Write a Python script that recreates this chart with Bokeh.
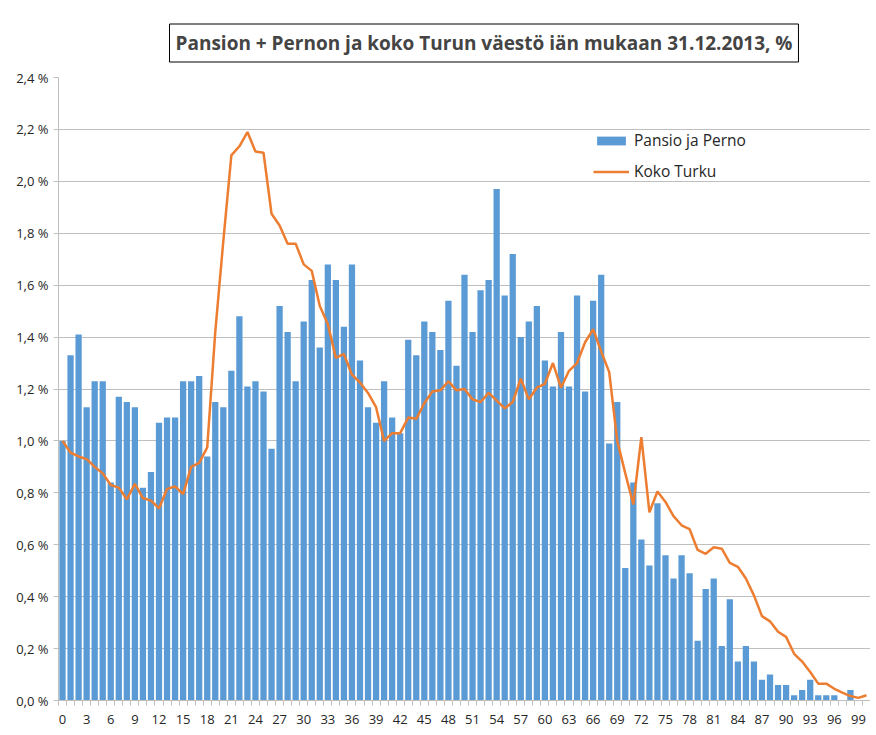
from bokeh.plotting import figure
from bokeh.models import (Range1d, FixedTicker, CustomJSTickFormatter, Legend,
                          LegendItem, ColumnDataSource)
from bokeh.embed import file_html
from bokeh.resources import INLINE

ages = list(range(0, 101))
pansio_perno = [
    1.00, 1.33, 1.41, 1.13, 1.23, 1.23, 0.84, 1.17, 1.15, 1.13,
    0.82, 0.88, 1.07, 1.09, 1.09, 1.23, 1.23, 1.25, 0.94, 1.15,
    1.13, 1.27, 1.48, 1.21, 1.23, 1.19, 0.97, 1.52, 1.42, 1.23,
    1.46, 1.62, 1.36, 1.68, 1.62, 1.44, 1.68, 1.31, 1.13, 1.07,
    1.23, 1.09, 1.03, 1.39, 1.33, 1.46, 1.42, 1.35, 1.54, 1.29,
    1.64, 1.42, 1.58, 1.62, 1.97, 1.56, 1.72, 1.40, 1.46, 1.52,
    1.31, 1.21, 1.42, 1.21, 1.56, 1.19, 1.54, 1.64, 0.99, 1.15,
    0.51, 0.84, 0.62, 0.52, 0.76, 0.56, 0.47, 0.56, 0.49, 0.23,
    0.43, 0.47, 0.21, 0.39, 0.15, 0.21, 0.15, 0.08, 0.10, 0.06,
    0.06, 0.02, 0.04, 0.08, 0.02, 0.02, 0.02, 0.00, 0.04, 0.00,
    0.00,
]
koko_turku = [
    1.00, 0.955, 0.94, 0.93, 0.90, 0.875, 0.83, 0.82, 0.775, 0.835,
    0.78, 0.77, 0.74, 0.815, 0.825, 0.795, 0.90, 0.915, 0.975, 1.42,
    1.77, 2.10, 2.135, 2.19, 2.115, 2.11, 1.875, 1.83, 1.76, 1.76,
    1.68, 1.655, 1.52, 1.45, 1.32, 1.335, 1.255, 1.225, 1.185, 1.13,
    1.00, 1.03, 1.03, 1.09, 1.085, 1.145, 1.19, 1.195, 1.23, 1.195,
    1.20, 1.16, 1.15, 1.185, 1.155, 1.125, 1.15, 1.24, 1.16, 1.205,
    1.22, 1.30, 1.205, 1.27, 1.30, 1.38, 1.43, 1.345, 1.265, 1.00,
    0.875, 0.755, 1.015, 0.725, 0.805, 0.765, 0.71, 0.675, 0.66, 0.58,
    0.565, 0.59, 0.585, 0.53, 0.515, 0.47, 0.405, 0.325, 0.305, 0.265,
    0.245, 0.18, 0.15, 0.11, 0.065, 0.065, 0.045, 0.03, 0.017, 0.01,
    0.02,
]
x_tick_labels = list(range(0, 100, 3))
y_ticks = [0.0, 0.2, 0.4, 0.6, 0.8, 1.0, 1.2, 1.4, 1.6, 1.8, 2.0, 2.2, 2.4]
title_text = "Pansion + Pernon ja koko Turun väestö iän mukaan 31.12.2013, %"
series_names = ["Pansio ja Perno", "Koko Turku"]

src = ColumnDataSource(dict(age=ages, pp=pansio_perno, kt=koko_turku))

p = figure(width=870, height=727, output_backend="svg", toolbar_location=None,
           x_range=Range1d(-0.5, 100.5), y_range=Range1d(0, 2.4),
           min_border_left=58, min_border_right=0, min_border_top=77,
           min_border_bottom=27, title=title_text)

p.title.align = "left"
p.title.offset = 111
p.title.standoff = 31
p.title.text_font = "Open Sans"
p.title.text_font_style = "bold"
p.title.text_font_size = "19px"
p.title.border_line_color = "black"
p.title.border_line_width = 1
p.title.background_fill_color = "white"
p.title.padding = 6

bars = p.vbar(x="age", top="pp", width=0.78, source=src,
              fill_color="#5b9bd5", line_color=None)
line = p.line(x="age", y="kt", source=src, line_color="#ed7d31", line_width=2.5)

p.outline_line_color = None
p.xgrid.grid_line_color = None
p.ygrid.grid_line_color = "#bfbfbf"
p.ygrid.grid_line_width = 1
p.ygrid.ticker = FixedTicker(ticks=y_ticks)

p.yaxis.ticker = FixedTicker(ticks=y_ticks)
p.yaxis.formatter = CustomJSTickFormatter(
    code="return tick.toFixed(1).replace('.', ',') + ' %';")
p.yaxis.axis_line_color = "#bfbfbf"
p.yaxis.major_tick_line_color = "#bfbfbf"
p.yaxis.major_tick_out = 5
p.yaxis.major_tick_in = 0
p.yaxis.minor_tick_line_color = None
p.yaxis.major_label_text_font = "Open Sans"
p.yaxis.major_label_text_font_size = "13px"
p.yaxis.major_label_text_color = "#262626"

boundaries = [a - 0.5 for a in ages] + [ages[-1] + 0.5]
p.xaxis.ticker = FixedTicker(ticks=x_tick_labels, minor_ticks=boundaries)
p.xaxis.axis_line_color = "#bfbfbf"
p.xaxis.major_tick_line_color = None
p.xaxis.minor_tick_line_color = "#bfbfbf"
p.xaxis.minor_tick_out = 5
p.xaxis.minor_tick_in = 0
p.xaxis.major_label_text_font = "Open Sans"
p.xaxis.major_label_text_font_size = "13px"
p.xaxis.major_label_text_color = "#262626"
p.xaxis.major_label_standoff = 8

legend = Legend(items=[LegendItem(label=series_names[0], renderers=[bars]),
                       LegendItem(label=series_names[1], renderers=[line])],
                location=(535, 518))
legend.border_line_color = None
legend.background_fill_alpha = 0.0
legend.glyph_width = 36
legend.glyph_height = 11
legend.label_text_font = "Open Sans"
legend.label_text_font_size = "15.5px"
legend.label_text_color = "#262626"
legend.label_height = 20
legend.spacing = 9
legend.padding = 6
legend.label_standoff = 5
p.add_layout(legend)

open("out.html", "w").write(file_html(p, INLINE))
